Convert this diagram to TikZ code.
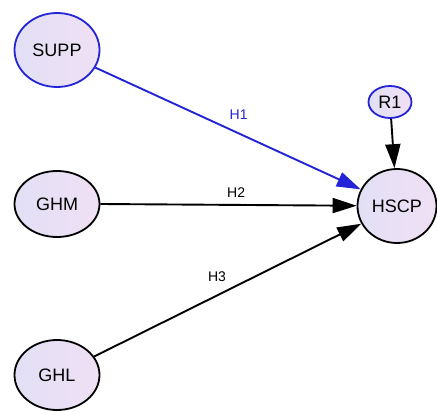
\documentclass[tikz,border=0pt]{standalone}
\usepackage{fontspec}
\setmainfont{Liberation Sans}
\usetikzlibrary{arrows.meta,shapes.geometric}
\definecolor{lblue}{RGB}{35,35,215}
\definecolor{fillA}{RGB}{226,224,246}
\definecolor{fillB}{RGB}{240,224,244}
\tikzset{
  lat/.style={ellipse,draw=black,line width=1.8pt,left color=fillA,right color=fillB,
    minimum width=#1,font=\fontsize{18}{20}\selectfont,inner sep=0pt},
  path/.style={line width=1.9pt,-{Triangle[length=24pt,width=15pt]}},
  hlab/.style={font=\fontsize{14}{16}\selectfont,inner sep=1pt}
}
\begin{document}
\begin{tikzpicture}[x=1pt,y=-1pt]
\useasboundingbox (0,0) rectangle (437,412);
\node[lat=85pt,minimum height=74pt,draw=lblue] (supp) at (57,50) {SUPP};
\node[lat=85pt,minimum height=66pt] (ghm) at (57,204) {GHM};
\node[lat=85pt,minimum height=70pt] (ghl) at (57,375) {GHL};
\node[lat=79pt,minimum height=74pt] (hscp) at (397,206) {HSCP};
\node[lat=43pt,minimum height=32pt,draw=lblue] (r1) at (390,102) {R1};
\draw[path,draw=lblue,fill=lblue] (supp) -- node[hlab,text=lblue,pos=0.54,above=12pt] {H1} (hscp);
\draw[path] (ghm.east) -- node[hlab,pos=0.53,above=5pt] {H2} (hscp);
\draw[path] (ghl) -- node[hlab,pos=0.46,above=12pt] {H3} (hscp);
\draw[path] (r1) -- (hscp);
\end{tikzpicture}
\end{document}
